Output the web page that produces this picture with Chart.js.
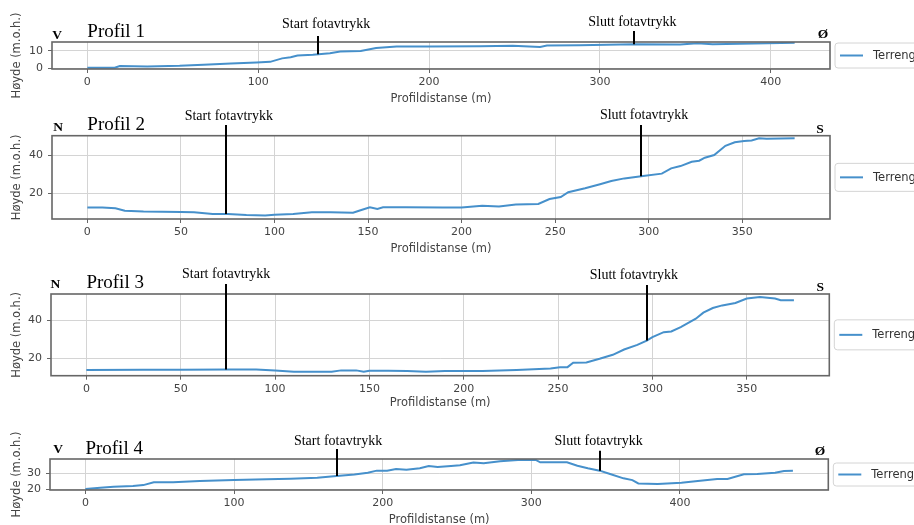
<!DOCTYPE html>
<html>
<head>
<meta charset="utf-8">
<script src="https://cdn.jsdelivr.net/npm/chart.js@4.4.1/dist/chart.umd.min.js"></script>
<style>
  html, body { margin: 0; padding: 0; background: #fff; width: 914px; height: 525px; overflow: hidden; position: relative; }
  canvas { position: absolute; left: 0; }
</style>
</head>
<body>
<script>
// ---- Terrengprofiler: profildistanse (m) og høyde (m.o.h.) ----
const dist1 = [0, 16, 19, 35, 54, 68, 84, 99, 107, 114, 119, 123, 132, 142, 148, 160, 169, 181, 200, 230, 249, 265, 269, 288, 320, 347, 357, 366, 414];
const hoyde1 = [0.2, 0.2, 1.2, 0.9, 1.3, 1.9, 2.6, 3.2, 3.6, 5.6, 6.2, 7.3, 7.7, 8.6, 9.6, 9.9, 11.6, 12.4, 12.4, 12.6, 12.8, 12.2, 13.0, 13.2, 13.7, 13.5, 14.3, 13.7, 14.5];

const dist2 = [0, 8, 15, 20, 30, 50, 57, 67, 75, 85, 95, 100, 110, 120, 130, 142, 146, 151, 155, 158, 170, 190, 200, 211, 220, 229, 241, 247, 253, 257, 266, 274, 280, 287, 297, 307, 312, 317, 323, 327, 330, 335, 341, 346, 351, 355, 359, 363, 378];
const hoyde2 = [12.3, 12.3, 12.0, 10.7, 10.2, 10.0, 9.8, 8.9, 8.9, 8.4, 8.2, 8.6, 8.9, 9.8, 9.8, 9.6, 10.9, 12.5, 11.6, 12.5, 12.5, 12.3, 12.3, 13.3, 12.9, 14.0, 14.2, 16.8, 17.9, 20.4, 22.5, 24.6, 26.3, 27.7, 28.9, 30.2, 33.0, 34.2, 36.5, 37.0, 38.6, 40.0, 44.9, 46.7, 47.4, 47.7, 48.8, 48.6, 48.8];

const dist3 = [0, 30, 50, 75, 90, 100, 110, 120, 130, 135, 143, 147, 150, 160, 170, 180, 190, 200, 210, 228, 246, 251, 255, 258, 265, 272, 279, 285, 292, 297, 300, 306, 310, 315, 323, 327, 332, 337, 344, 350, 357, 365, 368, 375];
const hoyde3 = [13.7, 13.8, 13.8, 14.0, 14.0, 13.5, 12.8, 12.8, 12.8, 13.5, 13.5, 12.8, 13.3, 13.3, 13.2, 12.8, 13.2, 13.2, 13.2, 13.7, 14.5, 15.2, 15.2, 17.5, 17.7, 19.6, 21.7, 24.5, 26.9, 29.2, 31.0, 33.6, 34.0, 36.3, 40.7, 43.9, 46.3, 47.7, 49.0, 51.3, 52.1, 51.3, 50.4, 50.4];

const dist4 = [0, 10, 19, 32, 39, 46, 59, 77, 100, 122, 138, 156, 169, 181, 190, 196, 203, 209, 216, 225, 231, 237, 246, 252, 261, 268, 279, 291, 303, 306, 324, 331, 338, 346, 353, 362, 368, 372, 385, 401, 412, 425, 432, 443, 452, 464, 470, 476];
const hoyde4 = [20.0, 20.8, 21.5, 22.0, 22.5, 24.3, 24.3, 25.1, 25.7, 26.2, 26.6, 27.2, 28.3, 29.3, 30.4, 31.7, 31.7, 32.7, 32.2, 33.2, 34.6, 34.0, 34.6, 35.1, 36.8, 36.4, 37.6, 38.5, 38.5, 37.0, 37.0, 34.8, 33.2, 31.7, 29.6, 26.8, 25.7, 23.6, 23.2, 24.0, 25.1, 26.4, 26.4, 29.4, 29.6, 30.4, 31.5, 31.7];

// Tick values per profile
const xTicks1 = [0, 100, 200, 300, 400];
const yTicks1 = [0, 10];
const xTicks2 = [0, 50, 100, 150, 200, 250, 300, 350];
const yTicks2 = [20, 40];
const xTicks3 = [0, 50, 100, 150, 200, 250, 300, 350];
const yTicks3 = [20, 40];
const xTicks4 = [0, 100, 200, 300, 400];
const yTicks4 = [20, 30];

// Profile names, direction letters and footprint start/end distances
const profilNavn = ['Profil 1', 'Profil 2', 'Profil 3', 'Profil 4'];
const retningFra = ['V', 'N', 'N', 'V'];
const retningTil = ['Ø', 'S', 'S', 'Ø'];
const startFotavtrykk = [135, 74, 74, 169];
const sluttFotavtrykk = [320, 296, 297, 346];
const seriesLabel = 'Terreng';

const profiles = [
  { dist: dist1, h: hoyde1, xt: xTicks1, yt: yTicks1 },
  { dist: dist2, h: hoyde2, xt: xTicks2, yt: yTicks2 },
  { dist: dist3, h: hoyde3, xt: xTicks3, yt: yTicks3 },
  { dist: dist4, h: hoyde4, xt: xTicks4, yt: yTicks4 }
];

// Panel geometry (page pixels) and axis ranges
const layouts = [
  { top: 0,   bottom: 110, plot: { l: 52, r: 830,   t: 42,    b: 69 },    x: [-20.7, 434.7],  y: [-0.5, 15.0], xTitleY: 99,  legH: 25,
    lab: { fromDx: 5, fromDy: 2.7, toDx: -7, toDy: 3.7, profDy: 4.7, startTx: 139.8, startDy: 13.7, startTop: 6, sluttTx: 319, sluttDy: 16, sluttTop: 11 } },
  { top: 105, bottom: 260, plot: { l: 52, r: 830,   t: 135.7, b: 219 },   x: [-18.9, 396.9],  y: [6.3, 50.2],  xTitleY: 249, legH: 28,
    lab: { fromDx: 6, fromDy: 4.7, toDx: -10, toDy: 3, profDy: 5.7, startTx: 75.6, startDy: 15.7, startTop: 10.7, sluttTx: 297.5, sluttDy: 16.7, sluttTop: 10.7 } },
  { top: 262, bottom: 414, plot: { l: 51, r: 829.3, t: 294,   b: 375.7 }, x: [-18.75, 393.75], y: [10.7, 53.7], xTitleY: 403, legH: 30,
    lab: { fromDx: 4.3, fromDy: 5.7, toDx: -9, toDy: 3, profDy: 6, startTx: 74.1, startDy: 15.7, startTop: 10, sluttTx: 290.2, sluttDy: 14.7, sluttTop: 9 } },
  { top: 418, bottom: 535, plot: { l: 50, r: 828.3, t: 459,   b: 490 },   x: [-23.8, 499.8],  y: [19.4, 39.1], xTitleY: 520, legH: 23,
    lab: { fromDx: 8, fromDy: 5.7, toDx: -8.3, toDy: 4, profDy: 5, startTx: 170, startDy: 14, startTop: 10, sluttTx: 345.3, sluttDy: 14, sluttTop: 8.3 } }
];

const LINE_COLOR = '#4690cb';
const SANS = '"DejaVu Sans", sans-serif';
const SERIF = '"Liberation Serif", "Times New Roman", serif';
const TITLE_SIZE = 11.5;

function heightAt(dist, h, x) {
  for (let i = 1; i < dist.length; i++) {
    if (x <= dist[i]) {
      const f = (x - dist[i - 1]) / (dist[i] - dist[i - 1]);
      return h[i - 1] + f * (h[i] - h[i - 1]);
    }
  }
  return h[h.length - 1];
}

// Plot frame, legend box and footprint annotations
const profilDecor = {
  id: 'profilDecor',
  afterDraw(chart, args, o) {
    const ctx = chart.ctx;
    const ca = chart.chartArea;
    const xs = chart.scales.x, ys = chart.scales.y;
    const p = o.profile, lab = o.lab, i = o.index;
    ctx.save();

    // frame
    ctx.strokeStyle = '#666';
    ctx.lineWidth = 1.6;
    ctx.strokeRect(ca.left, ca.top, ca.right - ca.left, ca.bottom - ca.top);

    // legend
    const cy = (ca.top + ca.bottom) / 2;
    const lx = ca.right + 5;
    ctx.beginPath();
    ctx.roundRect(lx, cy - o.legH / 2, 140, o.legH, 3);
    ctx.fillStyle = 'rgba(255,255,255,0.85)';
    ctx.fill();
    ctx.strokeStyle = '#d4d4d4';
    ctx.lineWidth = 1;
    ctx.stroke();
    const ds = chart.data.datasets[0];
    ctx.strokeStyle = ds.borderColor;
    ctx.lineWidth = 2;
    ctx.beginPath();
    ctx.moveTo(lx + 5, cy);
    ctx.lineTo(lx + 28, cy);
    ctx.stroke();
    ctx.fillStyle = '#333';
    ctx.font = '11.5px ' + SANS;
    ctx.textAlign = 'left';
    ctx.textBaseline = 'middle';
    ctx.fillText(ds.label, lx + 38, cy + 0.5);

    // direction letters and profile name
    ctx.fillStyle = '#000';
    ctx.textBaseline = 'alphabetic';
    ctx.font = 'bold 13.5px ' + SERIF;
    ctx.textAlign = 'center';
    ctx.fillText(retningFra[i], ca.left + lab.fromDx, ca.top - lab.fromDy);
    ctx.fillText(retningTil[i], ca.right + lab.toDx, ca.top - lab.toDy);
    ctx.font = '19px ' + SERIF;
    ctx.textAlign = 'left';
    ctx.fillText(profilNavn[i], xs.getPixelForValue(0), ca.top - lab.profDy);

    // footprint start / end
    ctx.font = '14px ' + SERIF;
    ctx.textAlign = 'center';
    ctx.fillText('Start fotavtrykk', xs.getPixelForValue(lab.startTx), ca.top - lab.startDy);
    ctx.fillText('Slutt fotavtrykk', xs.getPixelForValue(lab.sluttTx), ca.top - lab.sluttDy);
    ctx.strokeStyle = '#000';
    ctx.lineWidth = 2;
    [[startFotavtrykk[i], lab.startTop], [sluttFotavtrykk[i], lab.sluttTop]].forEach(([d, topOff]) => {
      const px = Math.round(xs.getPixelForValue(d));
      ctx.beginPath();
      ctx.moveTo(px, ca.top - topOff);
      ctx.lineTo(px, ys.getPixelForValue(heightAt(p.dist, p.h, d)));
      ctx.stroke();
    });
    ctx.restore();
  }
};

profiles.forEach((p, i) => {
  const L = layouts[i];
  const H = L.bottom - L.top;
  const canvas = document.createElement('canvas');
  canvas.width = 914;
  canvas.height = H;
  canvas.style.top = L.top + 'px';
  canvas.style.width = '914px';
  canvas.style.height = H + 'px';
  document.body.appendChild(canvas);

  const lineH = TITLE_SIZE * 1.2;
  const tickFont = { family: SANS, size: 11 };
  const gridCfg = { color: '#d4d4d4', lineWidth: 1, tickLength: 4, tickColor: '#666', drawTicks: true };

  new Chart(canvas, {
    type: 'line',
    data: {
      datasets: [{
        label: seriesLabel,
        data: p.dist.map((d, k) => ({ x: d, y: p.h[k] })),
        borderColor: LINE_COLOR,
        borderWidth: 2,
        pointRadius: 0,
        tension: 0,
        fill: false
      }]
    },
    options: {
      responsive: false,
      animation: false,
      devicePixelRatio: 1,
      layout: { padding: { left: 0, right: 914 - L.plot.r, top: L.plot.t - L.top, bottom: 0 } },
      plugins: {
        legend: { display: false },
        tooltip: { enabled: false },
        profilDecor: { profile: p, lab: L.lab, index: i, legH: L.legH }
      },
      scales: {
        x: {
          type: 'linear',
          min: L.x[0], max: L.x[1],
          grid: gridCfg,
          border: { display: false },
          ticks: { color: '#444', font: tickFont, padding: 3, maxRotation: 0, autoSkip: false },
          title: { display: true, text: 'Profildistanse (m)', color: '#444',
                   font: { family: SANS, size: TITLE_SIZE },
                   padding: { top: 0, bottom: L.bottom - L.xTitleY - lineH / 2 } },
          afterBuildTicks: s => { s.ticks = p.xt.map(v => ({ value: v })); },
          afterFit: s => { s.height = L.bottom - L.plot.b; }
        },
        y: {
          type: 'linear',
          min: L.y[0], max: L.y[1],
          grid: gridCfg,
          border: { display: false },
          ticks: { color: '#444', font: tickFont, padding: 5, autoSkip: false },
          title: { display: true, text: 'Høyde (m.o.h.)', color: '#444',
                   font: { family: SANS, size: TITLE_SIZE },
                   padding: { top: 17.5 - lineH / 2, bottom: 0 } },
          afterBuildTicks: s => { s.ticks = p.yt.map(v => ({ value: v })); },
          afterFit: s => { s.width = L.plot.l; }
        }
      }
    },
    plugins: [profilDecor]
  });
});
</script>
</body>
</html>
